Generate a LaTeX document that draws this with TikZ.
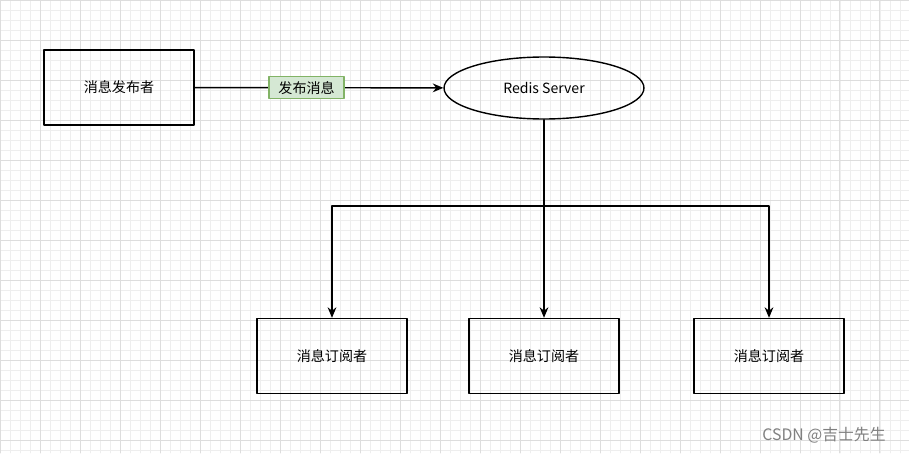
\documentclass[tikz,border=0pt]{standalone}
\usepackage{fontspec}
\setmainfont{Noto Sans CJK SC}
\usetikzlibrary{shapes.geometric,arrows.meta}
\definecolor{gridminor}{HTML}{EEEEEE}
\definecolor{gridmajor}{HTML}{DDDDDD}
\definecolor{tagfill}{HTML}{D5E8D4}
\definecolor{tagline}{HTML}{82B366}
\tikzset{
  box/.style={draw, thick, minimum width=3cm, minimum height=1.5cm, font=\fontsize{8}{10}\selectfont},
  link/.style={thick, -{Stealth[length=6pt,width=5pt]}}
}
\begin{document}
\begin{tikzpicture}[x=0.02cm, y=-0.02cm, line cap=round, line join=round]
  % background and grid
  \fill[white] (0,0) rectangle (909,453);
  \useasboundingbox (0,0) rectangle (909,453);
  \draw[gridminor, line width=0.3pt] (0,0) grid[step=0.2cm] (909,453);
  \draw[gridmajor, line width=0.4pt] (0,0) grid[step=0.8cm] (909,453);

  % nodes
  \node[box] (pub) at (119,87.5) {消息发布者};
  \node[draw, thick, ellipse, minimum width=4cm, minimum height=1.24cm,
        font=\fontsize{8}{10}\selectfont] (srv) at (544,88) {Redis Server};
  \node[box] (sub1) at (332,356) {消息订阅者};
  \node[box] (sub2) at (544,356) {消息订阅者};
  \node[box] (sub3) at (769,356) {消息订阅者};
  \coordinate (fork) at (544,206);

  % connectors
  \draw[link] (pub) -- node[pos=0.45, fill=tagfill, draw=tagline, inner sep=2.5pt,
        minimum width=1.5cm, font=\fontsize{8}{10}\selectfont] (tag) {发布消息} (srv);
  \draw[link] (srv) -- (sub2);
  \draw[link] (fork) -| (sub1);
  \draw[link] (fork) -| (sub3);

  % watermark
  \node[gray, font=\fontsize{9}{10}\selectfont] (mark) at (824,435) {CSDN @吉士先生};
\end{tikzpicture}
\end{document}
